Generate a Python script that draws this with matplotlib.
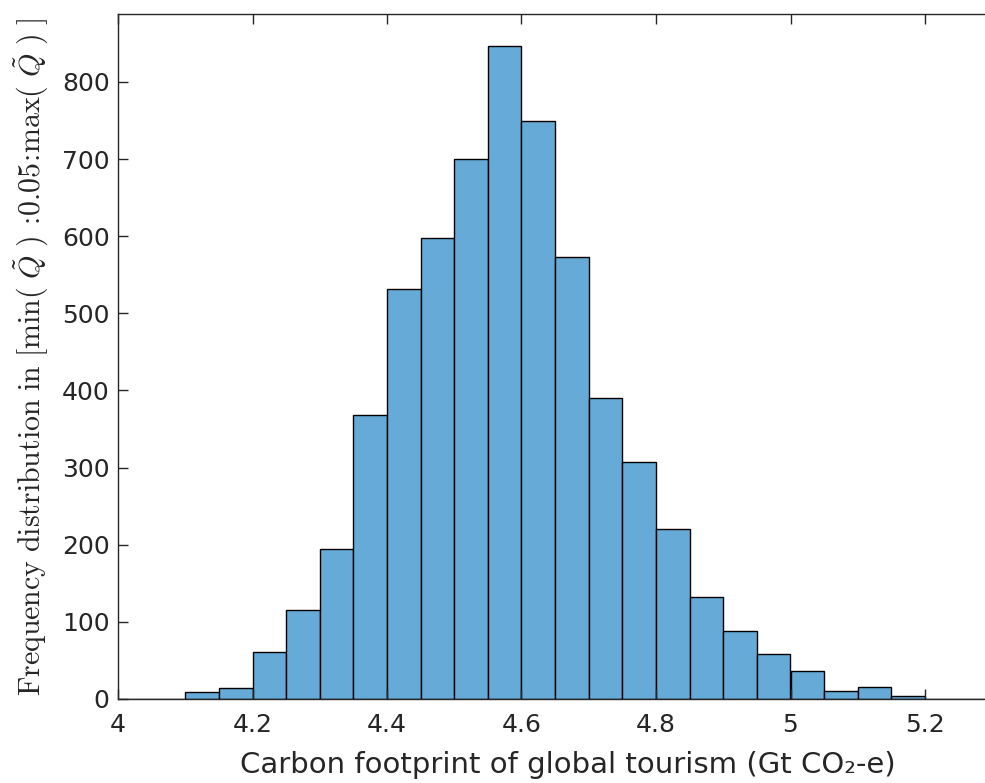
import matplotlib
matplotlib.use("Agg")
import matplotlib.pyplot as plt
import numpy as np

# bin edges (Gt CO2-e) and counts
bin_edges = np.round(np.arange(4.0, 5.3001, 0.05), 2)
counts = [0, 0, 9, 14, 61, 115, 195, 368, 532, 598, 700, 846, 749, 573,
          390, 307, 220, 132, 88, 58, 36, 11, 16, 4, 0, 0]

x_ticks = [4, 4.2, 4.4, 4.6, 4.8, 5, 5.2]
x_tick_labels = ["4", "4.2", "4.4", "4.6", "4.8", "5", "5.2"]
y_ticks = [0, 100, 200, 300, 400, 500, 600, 700, 800]

plt.rcParams["mathtext.fontset"] = "cm"
plt.rcParams["font.family"] = "DejaVu Sans"

axis_col = "#262626"
bar_col = (0.4, 0.668, 0.845)

fig = plt.figure(figsize=(9.85, 7.83), dpi=100)
# axes run past the right edge of the figure, as in the cropped original
ax = fig.add_axes([118 / 985, 84 / 783, 900 / 985, 685 / 783])

ax.bar(bin_edges[:-1], counts, width=np.diff(bin_edges), align="edge",
       color=bar_col, edgecolor="black", linewidth=1.0)

ax.set_xlim(4.0, 4.0 + 900 / 672.5)
ax.set_ylim(0, 888)
ax.set_xticks(x_ticks)
ax.set_xticklabels(x_tick_labels)
ax.set_yticks(y_ticks)

ax.tick_params(direction="in", length=7, width=1, colors=axis_col,
               labelsize=18, top=True, right=False)
ax.tick_params(axis="x", pad=10)
ax.tick_params(axis="y", pad=6)
for s in ax.spines.values():
    s.set_color(axis_col)
    s.set_linewidth(1.0)

ax.set_xlabel("Carbon footprint of global tourism (Gt CO\u2082-e)",
              fontsize=21, color=axis_col, labelpad=10)
ax.set_ylabel(r"$\mathrm{Frequency\ distribution\ in\ [min(\ }\tilde{Q}\mathrm{\ )\ \!:\!0.05\!:\!max(\ }\tilde{Q}\mathrm{\ )\ ]}$",
              fontsize=21.5, color=axis_col, labelpad=8)

fig.savefig("out.png", dpi=100)
